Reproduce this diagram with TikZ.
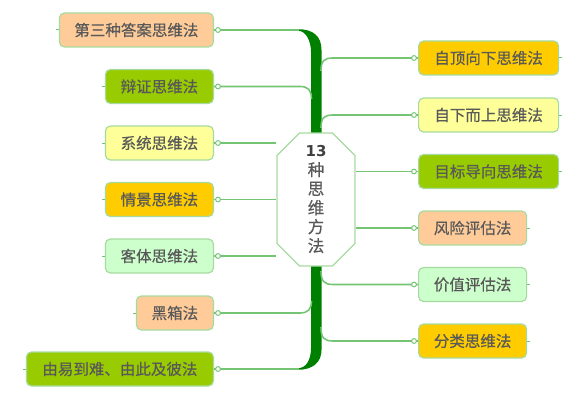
\documentclass[tikz,border=0pt]{standalone}
\usepackage{fontspec}
\setmainfont{Noto Sans CJK SC}[FakeBold=0.5]
\newfontfamily\numfont{DejaVu Sans}
\usetikzlibrary{shapes.misc}
\definecolor{peach}{HTML}{FFCC99}
\definecolor{lime}{HTML}{99CC00}
\definecolor{lyellow}{HTML}{FFFF99}
\definecolor{gold}{HTML}{FFCC00}
\definecolor{mint}{HTML}{CCFFCC}
\definecolor{bordergreen}{HTML}{A6DBA0}
\definecolor{linegreen}{HTML}{74C474}
\definecolor{trunkgreen}{HTML}{008000}
\definecolor{txt}{HTML}{595959}
\tikzset{
  topic/.style={draw=bordergreen, line width=1.2pt, rounded corners=5pt, minimum height=34pt,
    inner sep=0pt, font=\fontsize{15.5}{18}\selectfont, text=txt},
  lnode/.style={topic, anchor=east},
  rnode/.style={topic, anchor=west},
  br/.style={draw=linegreen, line width=1.6pt},
  knob/.style={draw=linegreen, fill=white, line width=1pt},
  trunk/.style={fill=trunkgreen},
  stub/.style={draw=linegreen, line width=1pt}
}
\begin{document}
\begin{tikzpicture}[x=1pt,y=-1pt]
\useasboundingbox (0,0) rectangle (580,401);
% trunk
\fill[trunk] (298,29.2) .. controls (313,29.2) and (321.5,36) .. (321.5,50) -- (321.5,140) -- (311,140) -- (311,52) .. controls (311,41) and (306,30.8) .. (298,30.8) -- cycle;
\fill[trunk] (311,260) -- (321.5,260) -- (321.5,350) .. controls (321.5,362) and (313,369.8) .. (298,369.8) -- (298,368.2) .. controls (306,368.2) and (311,360) .. (311,348) -- cycle;
% center node
\node[chamfered rectangle, chamfered rectangle xsep=12pt, chamfered rectangle ysep=11pt,
  draw=bordergreen, fill=white, line width=1.2pt, minimum width=78pt, minimum height=133pt,
  inner sep=0pt, align=center, text=txt, font=\fontsize{16.5}{19}\selectfont] (C) at (316,199.5)
  {{\numfont\bfseries\fontsize{15}{19}\selectfont\color{black!75}13}\\种\\思\\维\\方\\法};
% left nodes
\node[lnode, fill=peach, minimum width=154pt] (L1) at (214,30) {第三种答案思维法};
\node[lnode, fill=lime, minimum width=108pt] (L2) at (214,86.5) {辩证思维法};
\node[lnode, fill=lyellow, minimum width=108pt] (L3) at (214,143) {系统思维法};
\node[lnode, fill=gold, minimum width=108pt] (L4) at (214,199.5) {情景思维法};
\node[lnode, fill=mint, minimum width=108pt] (L5) at (214,256) {客体思维法};
\node[lnode, fill=peach, minimum width=77pt] (L6) at (214,313) {黑箱法};
\node[lnode, fill=lime, minimum width=187pt] (L7) at (214,369) {由易到难、由此及彼法};
% right nodes
\node[rnode, fill=gold, minimum width=140pt] (R1) at (418,58) {自顶向下思维法};
\node[rnode, fill=lyellow, minimum width=140pt] (R2) at (418,115) {自下而上思维法};
\node[rnode, fill=lime, minimum width=140pt] (R3) at (418,171.5) {目标导向思维法};
\node[rnode, fill=peach, minimum width=108pt] (R4) at (418,228) {风险评估法};
\node[rnode, fill=mint, minimum width=108pt] (R5) at (418,284.5) {价值评估法};
\node[rnode, fill=gold, minimum width=108pt] (R6) at (418,341) {分类思维法};
% trunk junction coordinates
\coordinate (T1) at (299,30);
\coordinate (T2) at (311.5,99);
\coordinate (T6) at (311.5,301);
\coordinate (T7) at (299,369);
\coordinate (S1) at (321,71);
\coordinate (S2) at (321,128);
\coordinate (S5) at (321,271);
\coordinate (S6) at (321,327);
% left connectors
\draw[br] (L1.east) -- (T1);
\draw[br] (L2.east) -- (300,86.5) .. controls (308,86.5) and (311.5,90) .. (T2);
\draw[br] (L3.east) -- (L3.east -| C.west);
\draw[br] (L4.east) -- (L4.east -| C.west);
\draw[br] (L5.east) -- (L5.east -| C.west);
\draw[br] (L6.east) -- (300,313) .. controls (308,313) and (311.5,309) .. (T6);
\draw[br] (L7.east) -- (T7);
% right connectors
\draw[br] (S1) .. controls (321,61) and (324,58) .. (333,58) -- (R1.west);
\draw[br] (S2) .. controls (321,118) and (324,115) .. (333,115) -- (R2.west);
\draw[br] (R3.west -| C.east) -- (R3.west);
\draw[br] (R4.west -| C.east) -- (R4.west);
\draw[br] (S5) .. controls (321,281) and (324,284.5) .. (333,284.5) -- (R5.west);
\draw[br] (S6) .. controls (321,338) and (324,341) .. (333,341) -- (R6.west);
% knobs
\foreach \n in {L1,L2,L3,L4,L5,L6,L7}{
  \draw[knob] ([xshift=4pt]\n.east) circle (2.4pt);
  \draw[stub] (\n.west) -- ++(-3,0);
}
\foreach \n in {R1,R2,R3,R4,R5,R6}{
  \draw[knob] ([xshift=-4pt]\n.west) circle (2.4pt);
  \draw[stub] (\n.east) -- ++(3,0);
}
\end{tikzpicture}
\end{document}
